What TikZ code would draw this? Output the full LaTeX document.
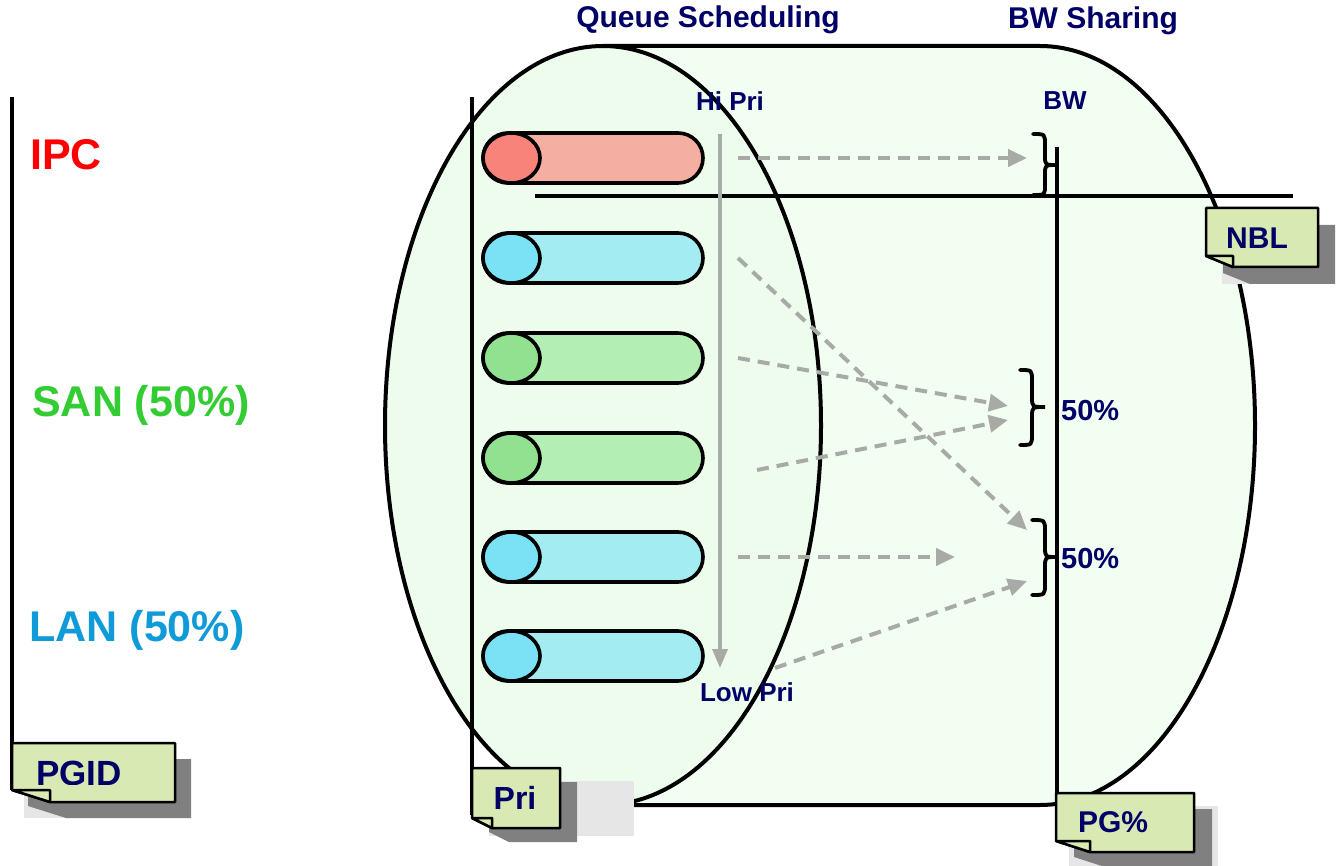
\documentclass[tikz,border=0pt]{standalone}
\usepackage{fontspec}
\setmainfont{Liberation Sans}
\usetikzlibrary{arrows.meta,shapes.misc,shapes.geometric}
\definecolor{navy}{HTML}{000066}
\definecolor{bodyfill}{HTML}{F2FEF2}
\definecolor{endfill}{HTML}{EDFCED}
\definecolor{redbody}{HTML}{F4AEA2}
\definecolor{redcap}{HTML}{F8837A}
\definecolor{cyanbody}{HTML}{A3ECF2}
\definecolor{cyancap}{HTML}{7BE2F5}
\definecolor{greenbody}{HTML}{B3EFB5}
\definecolor{greencap}{HTML}{92E190}
\definecolor{arrowgray}{HTML}{A7AAA5}
\definecolor{notefill}{HTML}{D9E9B3}
\definecolor{shadowdark}{HTML}{808080}
\definecolor{shadowlight}{HTML}{E6E6E6}
\definecolor{ipcred}{HTML}{FF0000}
\definecolor{sangreen}{HTML}{33CC33}
\definecolor{lanblue}{HTML}{0F9AD8}
\tikzset{
  pillbody/.style={rounded rectangle, draw=black, line width=3.6pt, minimum width=220pt, minimum height=50pt, inner sep=0pt},
  pillcap/.style={ellipse, draw=black, line width=3.6pt, minimum width=57pt, minimum height=50pt, inner sep=0pt},
  dasharrow/.style={draw=arrowgray, line width=4pt, dash pattern=on 12pt off 8pt, -{Triangle[length=19pt,width=17pt]}},
  prioarrow/.style={draw=arrowgray, line width=3.5pt, -{Triangle[length=19pt,width=15pt]}},
  axisline/.style={draw=black, line width=3.6pt},
  bracestyle/.style={draw=black, line width=3.8pt, line cap=round},
  smalllbl/.style={font=\bfseries\fontsize{26}{30}\selectfont, text=navy, inner sep=0pt},
  titlelbl/.style={font=\bfseries\fontsize{30}{36}\selectfont, text=navy, inner sep=0pt},
  pctlbl/.style={font=\bfseries\fontsize{29}{34}\selectfont, text=navy, inner sep=0pt, anchor=west},
  biglbl/.style={font=\bfseries\fontsize{43}{50}\selectfont, inner sep=0pt},
  notetext/.style={font=\bfseries\fontsize{32}{36}\selectfont, text=navy, inner sep=0pt},
  noteline/.style={draw=black, line width=2.5pt, fill=notefill, line join=round},
}
% #1 x0, #2 y0, #3 x1, #4 y1, #5 fold x, #6 fold y, #7 shadow dx, #8 shadow dy
\newcommand{\mknote}[8]{%
  \fill[shadowdark] (#1+#7,#2+#8) -- (#3+#7,#2+#8) -- (#3+#7,#4+#8) -- (#1+#5+#7,#4+#8) -- (#1+#7,#4-#6+#8) -- cycle;
  \path[noteline] (#1,#2) -- (#3,#2) -- (#3,#4) -- (#1+#5,#4) -- (#1,#4-#6) -- cycle;
  \path[noteline] (#1,#4-#6) -- (#1+#5,#4-#6) -- (#1+#5,#4) -- cycle;
}
\begin{document}
\begin{tikzpicture}[x=1pt,y=-1pt]
\useasboundingbox (0,0) rectangle (1338,866);
\fill[white] (0,0) rectangle (1338,866);

% big cylinder body
\fill[bodyfill] (603,46) -- (1040,46) arc[start angle=-90, end angle=90, x radius=215, y radius=379.5] -- (603,805) -- cycle;
\draw[line width=4pt] (603,46) -- (1040,46) arc[start angle=-90, end angle=90, x radius=215, y radius=379.5] -- (603,805);
% front face
\node[ellipse, draw=black, line width=4pt, fill=endfill, minimum width=436pt, minimum height=759pt, inner sep=0pt] (face) at (603,425.5) {};

% axis lines
\coordinate (pgidtop) at (12,97);
\coordinate (pgidbot) at (12,790);
\draw[axisline] (pgidtop) -- (pgidbot);
\coordinate (pritop) at (472,97);
\coordinate (pribot) at (472,815);
\draw[axisline] (pritop) -- (pribot);
\coordinate (pgtop) at (1057,147);
\coordinate (pgbot) at (1057,815);
\draw[axisline] (pgtop) -- (pgbot);
\coordinate (nblleft) at (535,196);
\coordinate (nblright) at (1293,196);
\draw[axisline] (nblleft) -- (nblright);

% queues
\node[pillbody, fill=redbody] (q1) at (593,158) {};
\node[pillcap, fill=redcap] (c1) at (511.5,158) {};
\node[pillbody, fill=cyanbody] (q2) at (593,258) {};
\node[pillcap, fill=cyancap] (c2) at (511.5,258) {};
\node[pillbody, fill=greenbody] (q3) at (593,358) {};
\node[pillcap, fill=greencap] (c3) at (511.5,358) {};
\node[pillbody, fill=greenbody] (q4) at (593,458) {};
\node[pillcap, fill=greencap] (c4) at (511.5,458) {};
\node[pillbody, fill=cyanbody] (q5) at (593,557) {};
\node[pillcap, fill=cyancap] (c5) at (511.5,557) {};
\node[pillbody, fill=cyanbody] (q6) at (593,656) {};
\node[pillcap, fill=cyancap] (c6) at (511.5,656) {};

% priority arrow
\coordinate (hiP) at (720,134);
\coordinate (loP) at (720,668);
\draw[prioarrow] (hiP) -- (loP);

% dashed arrows
\coordinate (s1) at (738,158); \coordinate (e1) at (1027,158);
\coordinate (s2) at (738,258); \coordinate (e2) at (1027,530);
\coordinate (s3) at (738,358); \coordinate (e3) at (1008,406);
\coordinate (s4) at (757,470); \coordinate (e4) at (1008,420);
\coordinate (s5) at (738,557); \coordinate (e5) at (955,557);
\coordinate (s6) at (775,668); \coordinate (e6) at (1027,581);
\draw[dasharrow] (s1) -- (e1);
\draw[dasharrow] (s2) -- (e2);
\draw[dasharrow] (s3) -- (e3);
\draw[dasharrow] (s4) -- (e4);
\draw[dasharrow] (s5) -- (e5);
\draw[dasharrow] (s6) -- (e6);

% braces
\draw[bracestyle] (1033,134) .. controls (1045,134) .. (1045,145) -- (1045,156) .. controls (1045,165) .. (1057,165) .. controls (1045,165) .. (1045,174) -- (1045,185) .. controls (1045,195) .. (1033,195);
\draw[bracestyle] (1020,370) .. controls (1032,370) .. (1032,381) -- (1032,397) .. controls (1032,407) .. (1045,407) .. controls (1032,407) .. (1032,417) -- (1032,434) .. controls (1032,445) .. (1020,445);
\draw[bracestyle] (1032,520) .. controls (1045,520) .. (1045,531) -- (1045,547) .. controls (1045,557) .. (1057,557) .. controls (1045,557) .. (1045,567) -- (1045,584) .. controls (1045,595) .. (1032,595);

% labels
\node[titlelbl] (tq) at (708,20) {Queue Scheduling};
\node[titlelbl] (tb) at (1093,21) {BW Sharing};
\node[smalllbl] (hi) at (730,101) {Hi Pri};
\node[smalllbl] (bw) at (1065,101) {BW};
\node[smalllbl] (lo) at (747,692) {Low Pri};
\node[pctlbl] (p1) at (1061,411) {50\%};
\node[pctlbl] (p2) at (1061,559) {50\%};
\node[biglbl, text=ipcred] (ipc) at (66,155) {IPC};
\node[biglbl, text=sangreen] (san) at (141,405) {SAN (50\%)};
\node[biglbl, text=lanblue] (lan) at (137,630) {LAN (50\%)};

% notes
\fill[shadowlight] (24,760) rectangle (191,818);
\mknote{12}{743}{175}{802}{38}{12}{16}{16}
\begin{scope}
\clip (0,0) rectangle (1338,784);
\node[notetext, font=\bfseries\fontsize{35}{40}\selectfont] (pgid) at (79,773) {PGID};
\end{scope}

\fill[shadowlight] (489,781) rectangle (634,836);
\mknote{472}{768}{560}{828}{20}{10}{17}{14}
\node[notetext] (pri) at (515,798) {Pri};

\fill[shadowlight] (1069,806) rectangle (1218,866);
\mknote{1056}{793}{1194}{852}{34}{11}{18}{16}
\node[notetext, font=\bfseries\fontsize{30}{36}\selectfont] (pgp) at (1113,822) {PG\%};

\fill[shadowlight] (1222,225) rectangle (1334,284);
\mknote{1206}{208}{1318}{267}{27}{11}{17}{17}
\node[notetext, font=\bfseries\fontsize{30}{36}\selectfont] (nbl) at (1257,238) {NBL};
\end{tikzpicture}
\end{document}
